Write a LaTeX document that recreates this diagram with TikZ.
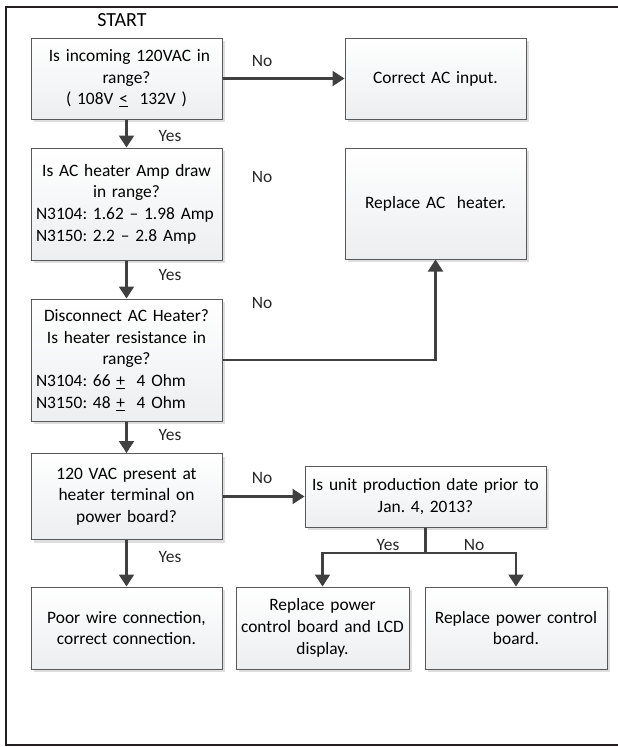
\documentclass[tikz,border=0pt]{standalone}
\usepackage[table]{xcolor}
\usepackage{fontspec}
\setmainfont{Carlito}
\usepackage{tikz}
\usetikzlibrary{arrows.meta,shadows}

\definecolor{boxline}{HTML}{595959}
\definecolor{boxfill}{HTML}{ECEEF0}
\definecolor{flowline}{HTML}{404040}
\definecolor{frameline}{HTML}{231F20}

\newcommand{\lineleft}[1]{\makebox[181pt][l]{#1}}
\frenchspacing

\tikzset{
  testbox/.style={draw=boxline, line width=1pt, top color=white, bottom color=boxfill,
    drop shadow={shadow xshift=3pt, shadow yshift=-3pt, fill=black!13, opacity=1},
    inner xsep=5pt, inner ysep=0pt, align=center, font=\fontsize{17.4}{21.7}\selectfont},
  flow/.style={draw=flowline, line width=2.2pt, -{Triangle[width=15pt,length=12pt]}},
  answer/.style={font=\fontsize{17.4}{20}\selectfont, text=black!85, inner sep=0pt}
}

\begin{document}
\begin{tikzpicture}[x=1pt, y=-1pt]
        \useasboundingbox (0,0) rectangle (618,747);
        \draw [frameline, line width=2.4pt] (640,7) -- (6,7) -- (6,745) -- (640,745); %frame
        \node [font=\fontsize{20}{22}\selectfont] (start) at (122,20) {START};

        % left column
        \node [testbox, text width=181pt, minimum height=81pt]  (incoming)   at (126.5,78.5)
              {\ Is incoming 120VAC in\\ range?\\ ( 108V \underline{<}\ \ 132V )};
        \node [testbox, text width=181pt, minimum height=112pt] (ampdraw)    at (126.5,204)
              {Is AC heater Amp draw\\ in range?\\ \lineleft{N3104: 1.62 -- 1.98 Amp}\\ \lineleft{N3150: 2.2 -- 2.8 Amp}};
        \node [testbox, text width=181pt, minimum height=122pt] (resistance) at (126.5,360)
              {Disconnect AC Heater?\\ Is heater resistance in\\ range?\\ \lineleft{N3104: 66 \underline{+}\ \ 4 Ohm}\\ \lineleft{N3150: 48 \underline{+}\ \ 4 Ohm}};
        \node [testbox, text width=181pt, minimum height=86pt]  (terminal)   at (126.5,496.5)
              {120 VAC present at\\ heater terminal on\\ power board?};
        \node [testbox, text width=181pt, minimum height=82pt]  (poorwire)   at (126.5,628)
              {Poor wire connection,\\ correct connection.};

        % right column
        \node [testbox, text width=171pt, minimum height=81pt]  (acinput)    at (435.5,78.5)  {Correct AC input.};
        \node [testbox, text width=171pt, minimum height=111pt] (heater)     at (435.5,203.5) {Replace AC\ \ heater.};
        \node [testbox, text width=231pt, minimum height=61pt]  (proddate)   at (425.5,496.5)
              {Is unit production date prior to\\ Jan. 4, 2013?};
        \node [testbox, text width=163pt, minimum height=82pt]  (lcdboard)   at (322.5,628)
              {Replace power\\ control board and LCD\\ display.};
        \node [testbox, text width=172pt, minimum height=82pt]  (ctrlboard)  at (516,628)
              {Replace power control\\ board.};

        % answers
        \node [answer] (no1)  at (262,61)  {No};
        \node [answer] (no2)  at (262,177) {No};
        \node [answer] (no3)  at (262,303) {No};
        \node [answer] (no4)  at (262,478) {No};
        \node [answer] (yes1) at (170,136) {Yes};
        \node [answer] (yes2) at (170,275) {Yes};
        \node [answer] (yes3) at (170,435) {Yes};
        \node [answer] (yes4) at (170,557) {Yes};
        \node [answer] (yes5) at (388,545) {Yes};
        \node [answer] (no5)  at (474,545) {No};

        % connectors
        \draw [flow] (incoming.east)   -- (acinput.west);
        \draw [flow] (incoming)        -- (ampdraw);
        \draw [flow] (ampdraw)         -- (resistance);
        \draw [flow] (resistance)      -- (terminal);
        \draw [flow] (resistance.east) -| (heater.south);
        \draw [flow] (terminal)        -- (poorwire);
        \draw [flow] (terminal.east)   -- (proddate.west);
        \coordinate (split) at (425.5,553);
        \draw [flowline, line width=2.2pt] (proddate.south) -- (split);
        \draw [flow] (split) -| (lcdboard.north);
        \draw [flow] (split) -| (ctrlboard.north);
\end{tikzpicture}
\end{document}
